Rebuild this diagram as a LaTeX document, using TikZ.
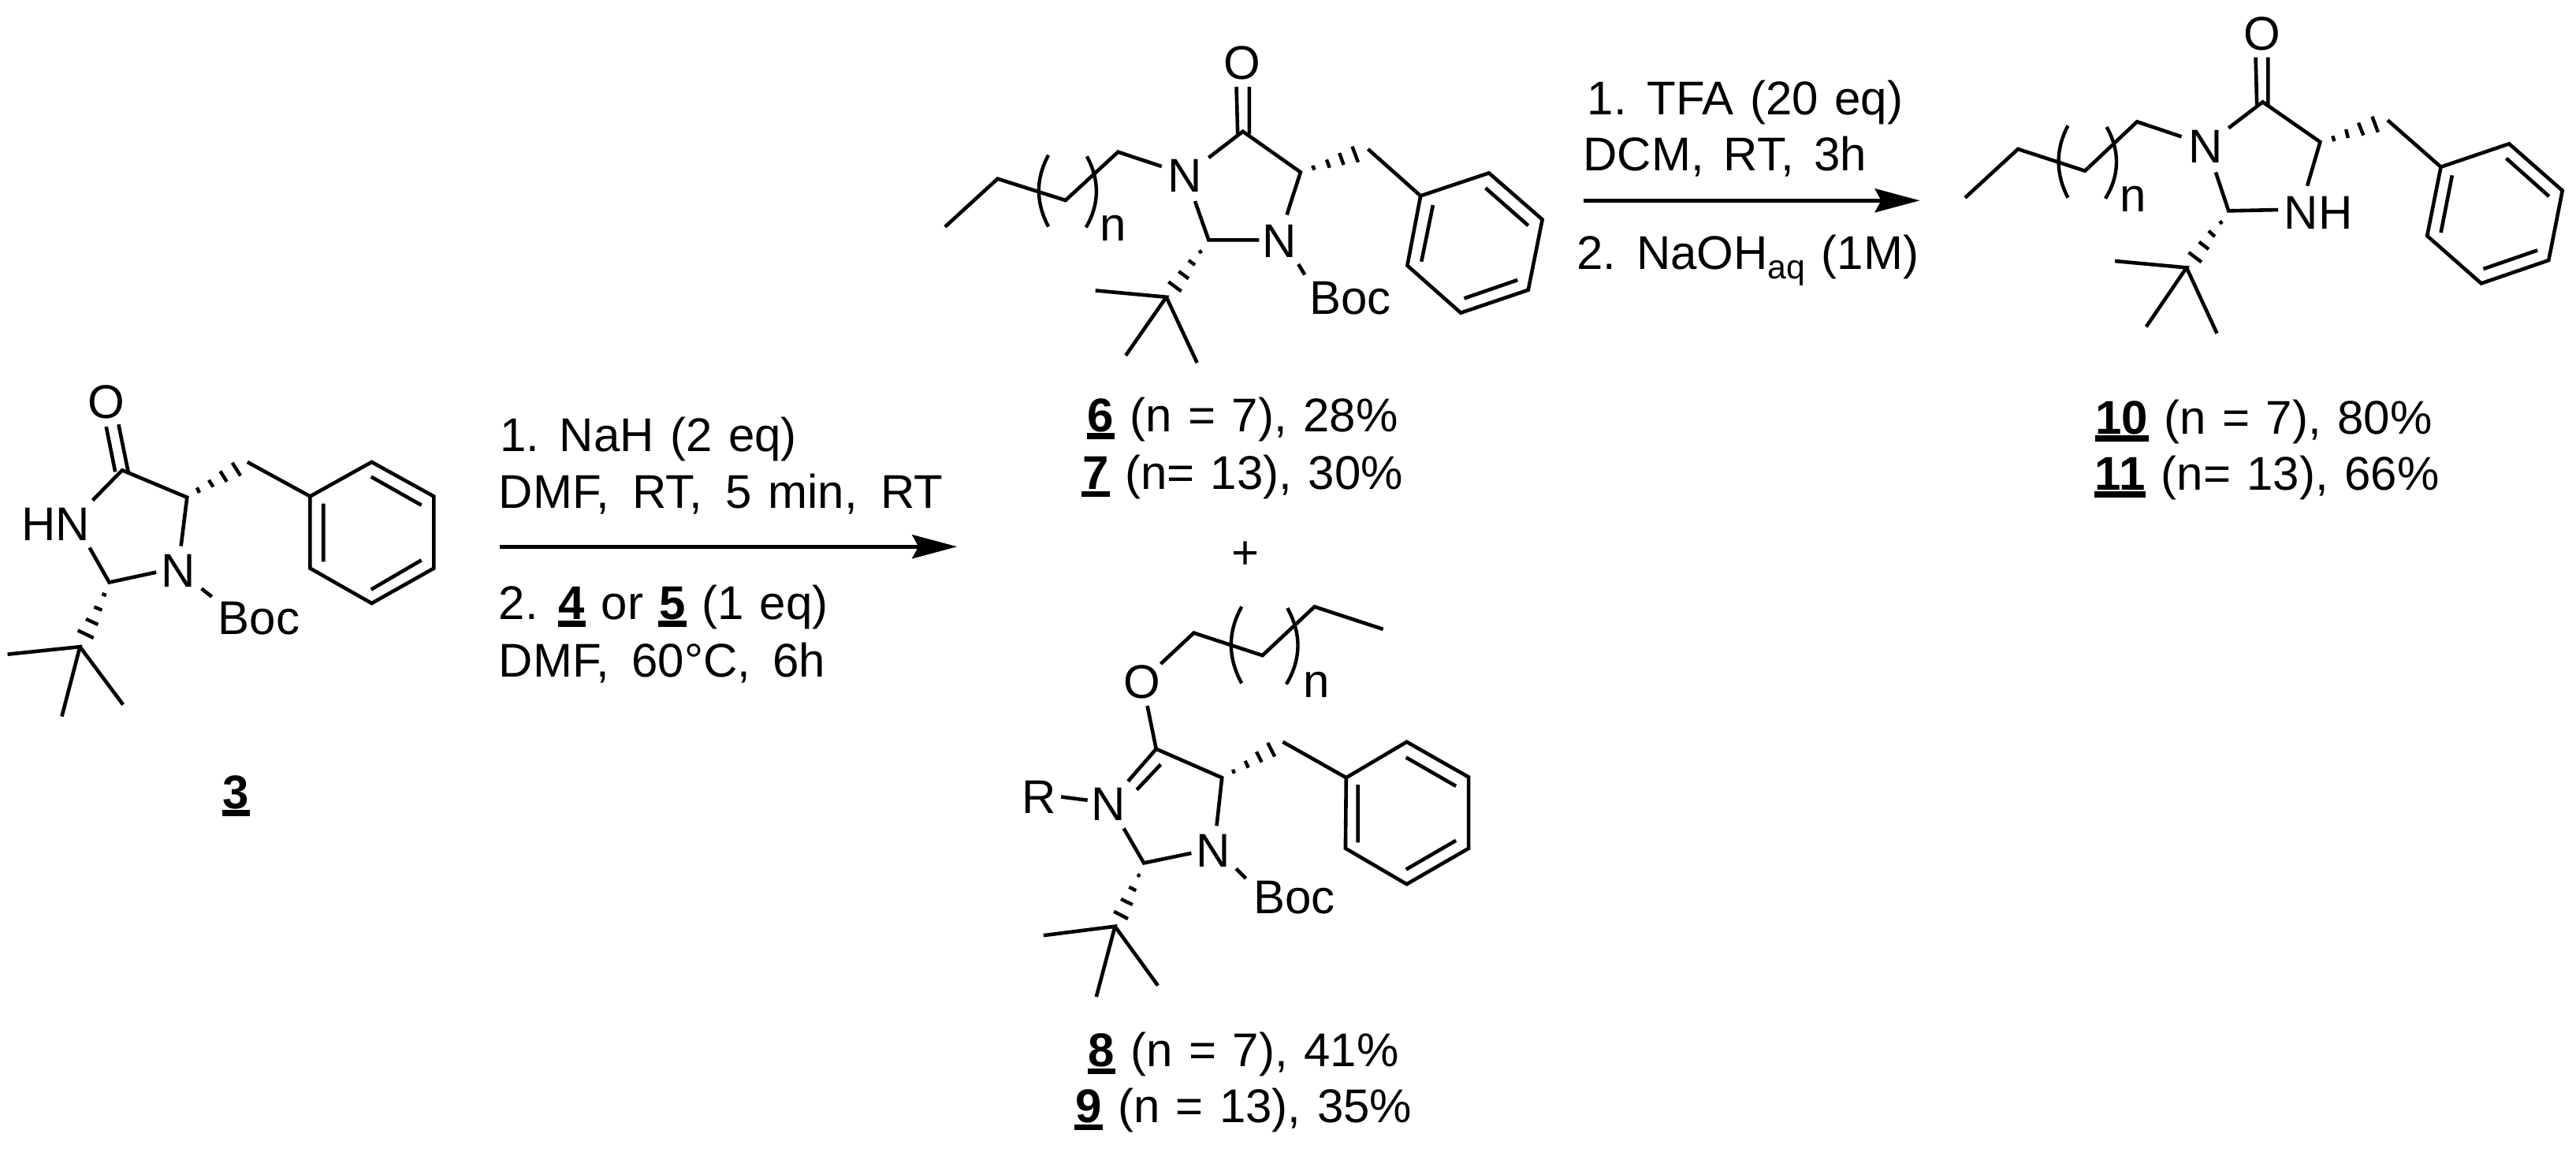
\documentclass[tikz,border=0pt]{standalone}
\usepackage{fontspec}
\setmainfont{Liberation Sans}
\usetikzlibrary{arrows.meta}
\newcommand\cpd[1]{{\setbox0\hbox{\bfseries #1}\rlap{\kern-0.5pt\rule[-4.8pt]{\dimexpr\wd0+1pt\relax}{3.8pt}}\box0}}
\newcommand\txtfont{\fontsize{30}{36}\selectfont\spaceskip=.34em\relax}
\newcommand\cm[1]{,\kern#1\relax}
\tikzset{
  bond/.style={line width=2.3pt,line cap=butt,line join=miter},
  hashb/.style={line width=2.2pt},
  brack/.style={line width=2.2pt},
  atom/.style={inner sep=0pt,anchor=base,font=\txtfont},
  atoml/.style={inner sep=0pt,anchor=base west,font=\txtfont},
  txt/.style={inner sep=0pt,anchor=base west,font=\txtfont},
  yield/.style={inner sep=0pt,anchor=base,font=\txtfont},
  rxn/.style={line width=2.5pt,-{Stealth[length=28.5pt,width=15pt,inset=4pt]}},
  mola/.style={shift={(0pt,-210pt)},x=0.19135pt,y=-0.20730pt},
  molb/.style={shift={(575pt,-15pt)},x=0.27100pt,y=-0.16667pt},
  molc/.style={shift={(615pt,-365pt)},x=0.22321pt,y=-0.17857pt},
  mold/.style={shift={(1220pt,0pt)},x=0.26399pt,y=-0.16667pt},
}
\begin{document}
\begin{tikzpicture}[x=1.042pt,y=-1.042pt]
\useasboundingbox (0,0) rectangle (1568,705.4);
\fill[white] (0,0) rectangle (1568,705.4);

% ---------- compound 3
\begin{scope}[mola]
\node[atom] (o3) at (352,266) {O};
\node[atom] (hn3) at (184,640) {HN};
\node[atom] (n3) at (592,782) {N};
\node[atoml] (boc3) at (722,926) {Boc};
\node[atom] (lab3) at (782,1460) {\cpd{3}};
\draw[bond] (352,292)--(382,430) (393,285)--(425,430);
\draw[bond] (307,517)--(405,425)--(620,508)--(600,657);
\draw[bond] (297,662)--(362,768)--(518,737);
\draw[hashb] (653,478)--(661,494) (692,455)--(707,476) (730,428)--(752,460) (770,402)--(797,442);
\draw[bond] (820,400)--(1028,505);
\draw[bond] (1028,505)--(1232,400)--(1438,505)--(1438,725)--(1232,832)--(1028,725)--cycle;
\draw[bond] (1072,527)--(1072,705) (1230,445)--(1397,532) (1397,700)--(1230,790);
\draw[bond] (668,787)--(702,812);
\draw[hashb] (338,803)--(352,808) (312,843)--(338,853) (285,880)--(325,897) (258,915)--(310,938);
\draw[bond] (25,988)--(265,965)--(205,1178) (265,965)--(408,1142);
\end{scope}

% ---------- compound 6/7
\begin{scope}[molb]
\node[atom] (o6) at (785,211) {O};
\node[atom] (na6) at (652,640) {N};
\node[atom] (nb6) at (872,890) {N};
\node[atoml] (boc6) at (942,1105) {Boc};
\node[atom] (n6) at (483,825) {n};
\draw[bond] (772,240)--(775,420) (802,240)--(802,420);
\draw[bond] (707,510)--(787,410)--(922,565)--(890,727);
\draw[bond] (675,675)--(707,823)--(825,823);
\draw[bond] (90,773)--(213,590)--(372,672)--(495,488)--(597,543);
\draw[brack] (332,500) .. controls (302,590) and (302,680) .. (332,772);
\draw[brack] (422,505) .. controls (452,595) and (452,685) .. (420,775);
\draw[hashb] (950,540)--(955,556) (983,517)--(990,548) (1013,492)--(1023,537) (1043,467)--(1057,527);
\draw[bond] (1080,477)--(1203,655);
\draw[bond] (1203,655)--(1363,568)--(1488,745)--(1455,1013)--(1297,1100)--(1172,920)--cycle;
\draw[bond] (1232,690)--(1205,905) (1355,625)--(1455,768) (1430,975)--(1305,1045);
\draw[bond] (917,915)--(932,955);
\draw[hashb] (685,862)--(690,873) (660,900)--(675,918) (637,942)--(660,970) (613,982)--(643,1018);
\draw[bond] (442,1015)--(608,1040)--(513,1262) (608,1040)--(680,1290);
\end{scope}

% ---------- compound 8/9
\begin{scope}[molc]
\node[atom] (r8) at (197,843) {R};
\node[atom] (na8) at (395,870) {N};
\node[atom] (o8) at (490,435) {O};
\node[atom] (nb8) at (693,1033) {N};
\node[atoml] (boc8) at (806,1200) {Boc};
\node[atom] (n8) at (985,432) {n};
\draw[bond] (260,785)--(335,797);
\draw[bond] (505,462)--(530,615);
\draw[bond] (450,730)--(530,615)--(717,717)--(702,888);
\draw[bond] (543,670)--(475,760);
\draw[bond] (543,313)--(637,203)--(832,283)--(980,110)--(1175,190);
\draw[brack] (773,110) .. controls (733,200) and (733,290) .. (773,382);
\draw[brack] (903,115) .. controls (943,205) and (943,295) .. (900,385);
\draw[bond] (438,897)--(495,1020)--(630,985);
\draw[bond] (757,1040)--(785,1075);
\draw[hashb] (748,688)--(752,702) (783,657)--(792,682) (815,625)--(830,662) (847,593)--(867,642);
\draw[bond] (890,590)--(1070,717);
\draw[bond] (1070,717)--(1242,590)--(1418,715)--(1418,968)--(1242,1095)--(1068,968)--cycle;
\draw[bond] (1103,742)--(1103,947) (1240,645)--(1382,747) (1382,940)--(1240,1043);
\draw[hashb] (477,1060)--(484,1068) (453,1105)--(473,1118) (430,1148)--(463,1168) (410,1192)--(450,1218);
\draw[bond] (210,1277)--(413,1245)--(360,1495) (413,1245)--(535,1455);
\end{scope}

% ---------- compound 10/11
\begin{scope}[mold]
\node[atom] (o10) at (813,190) {O};
\node[atom] (na10) at (678,618) {N};
\node[atoml] (nh10) at (866,870) {NH};
\node[atom] (n10) at (503,805) {n};
\draw[bond] (798,218)--(801,400) (828,218)--(828,400);
\draw[bond] (733,487)--(815,388)--(953,540)--(922,707);
\draw[bond] (702,655)--(733,802)--(852,798);
\draw[bond] (100,752)--(227,567)--(388,650)--(513,463)--(620,520);
\draw[brack] (347,478) .. controls (317,568) and (317,660) .. (347,752);
\draw[brack] (440,483) .. controls (472,573) and (472,665) .. (437,755);
\draw[hashb] (983,517)--(987,537) (1015,492)--(1020,525) (1045,467)--(1057,515) (1078,443)--(1092,503);
\draw[bond] (1115,457)--(1243,635);
\draw[bond] (1243,635)--(1407,547)--(1535,725)--(1502,990)--(1340,1078)--(1210,897)--cycle;
\draw[bond] (1270,667)--(1243,885) (1400,602)--(1503,747) (1475,952)--(1345,1023);
\draw[hashb] (712,840)--(717,852) (685,878)--(700,900) (662,920)--(685,948) (637,960)--(668,997);
\draw[bond] (460,993)--(632,1018)--(535,1243) (632,1018)--(705,1268);
\end{scope}

% ---------- reaction conditions
\node[txt] (c1) at (304,274.8) {1. NaH (2 eq)};
\node[txt] (c2) at (303.5,309) {DMF\cm{4.5pt} RT\cm{4.5pt} 5 min\cm{4.5pt} RT};
\node[txt] (c3) at (303.5,376.7) {2. \cpd{4} or \cpd{5} (1 eq)};
\node[txt] (c4) at (303.5,411.8) {DMF\cm{4pt} 60°C\cm{4pt} 6h};
\node[txt] (d1) at (966,70) {1. TFA (20 eq)};
\node[txt] (d2) at (963.5,104) {DCM\cm{2.4pt} RT\cm{2.4pt} 3h};
\node[txt] (d3) at (959.5,164) {2. NaOH\raisebox{-6pt}{\fontsize{21.4}{24}\selectfont aq} (1M)};

\coordinate (a1s) at (304,332.6);
\coordinate (a1e) at (582.6,332.6);
\coordinate (a2s) at (964,122);
\coordinate (a2e) at (1168.6,122);
\draw[rxn] (a1s)--(a1e);
\draw[rxn] (a2s)--(a2e);

% ---------- yields
\node[yield] (y6) at (756.5,262.6) {\cpd{6} (n = 7), 28\%};
\node[yield] (y7) at (756.5,297.8) {\cpd{7} (n= 13), 30\%};
\node[yield] (pl) at (758,346) {+};
\node[yield] (y8) at (757,649) {\cpd{8} (n = 7), 41\%};
\node[yield] (y9) at (757,683) {\cpd{9} (n = 13), 35\%};
\node[yield] (y10) at (1378,264) {\cpd{10} (n = 7), 80\%};
\node[yield] (y11) at (1380,298) {\cpd{11} (n= 13), 66\%};
\end{tikzpicture}
\end{document}
